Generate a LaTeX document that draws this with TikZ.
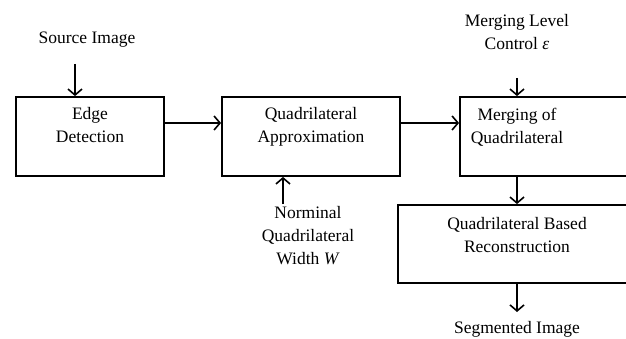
\documentclass[tikz,border=0pt]{standalone}
\usepackage{fontspec}
\setmainfont{Liberation Serif}
\usetikzlibrary{arrows.meta}

\tikzset{
  blk/.style={draw,line width=1.8pt,align=center,inner sep=0pt},
  lbl/.style={align=center,inner sep=0pt},
  arr/.style={line width=1.6pt,-{Straight Barb[length=6pt,width=14pt,line width=1.6pt]}}
}

\begin{document}
\begin{tikzpicture}[x=1pt,y=-1pt,font=\fontsize{17.5}{23}\selectfont]
\clip (0,0) rectangle (626,339);
\node[blk,minimum width=148,minimum height=79] (edge) at (90,136.5) {Edge\\Detection\\~};
\node[blk,minimum width=178,minimum height=79] (quad) at (311,136.5) {Quadrilateral\\Approximation\\~};
\node[blk,minimum width=180,minimum height=79] (merge) at (550,136.5) {};
\node[lbl] (mergetxt) at (517,127) {Merging of\\Quadrilateral};
\node[blk,minimum width=242,minimum height=78] (recon) at (519,244) {};
\node[lbl] (recontxt) at (517,235) {Quadrilateral Based\\Reconstruction};
\node[lbl] (src) at (87,40) {Source Image};
\node[lbl] (level) at (517,32) {Merging Level\\Control \textit{ε}};
\node[lbl] (width) at (308,236) {Norminal\\Quadrilateral\\Width \textit{W}};
\node[lbl,anchor=base] (seg) at (517,333) {Segmented Image};
\coordinate (srcend) at (75,64);
\coordinate (widthend) at (283,204);
\draw[arr] (srcend) -- (srcend |- edge.north);
\draw[arr] (edge.east |- 0,123) -- (quad.west |- 0,123);
\draw[arr] (quad.east |- 0,123) -- (merge.west |- 0,123);
\draw[arr] (level.south |- 0,78) -- (level.south |- merge.north);
\draw[arr] (widthend) -- (widthend |- quad.south);
\draw[arr] (517,0 |- merge.south) -- (517,0 |- recon.north);
\draw[arr] (517,0 |- recon.south) -- (517,312);
\end{tikzpicture}
\end{document}
